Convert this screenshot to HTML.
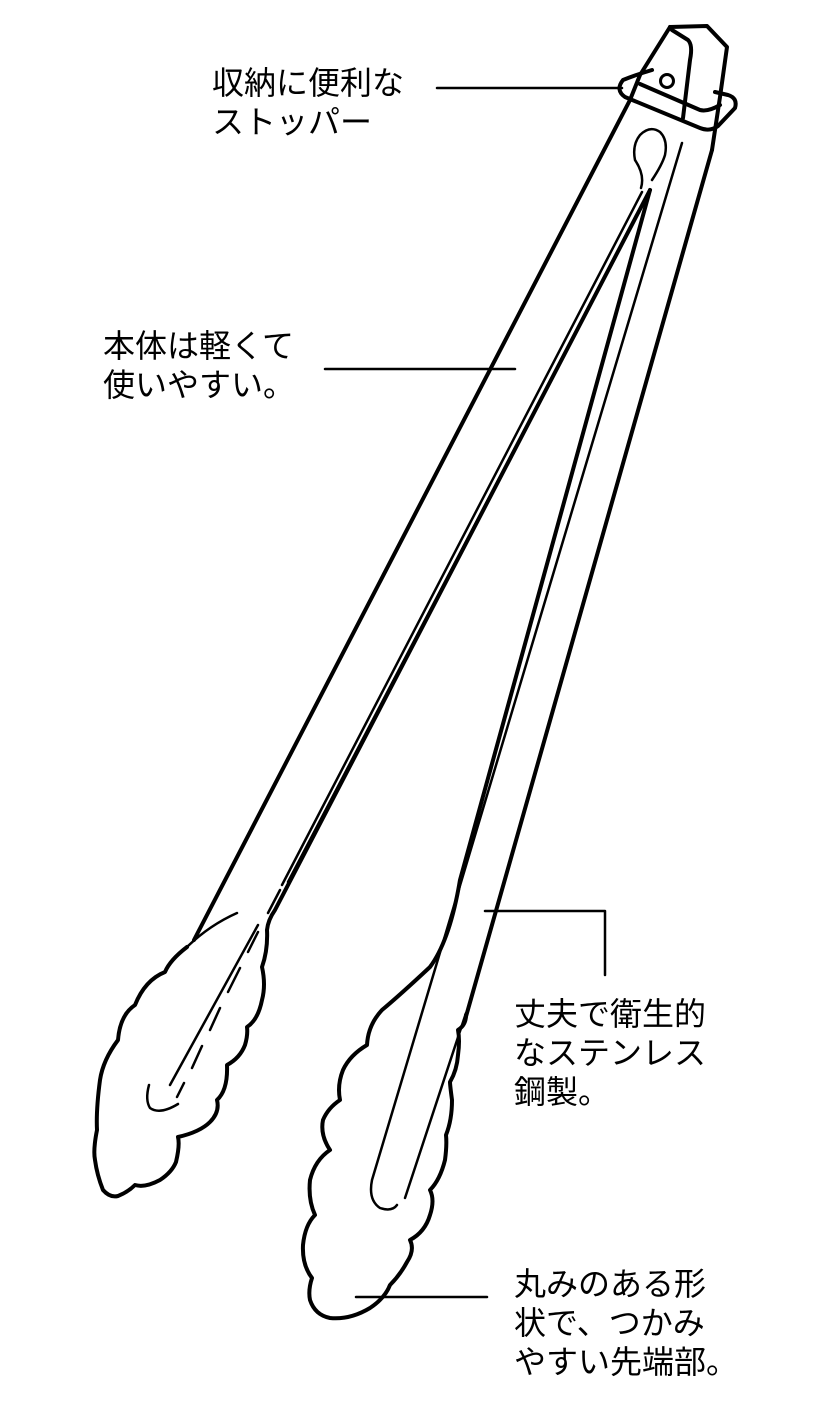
<!DOCTYPE html>
<html><head><meta charset="utf-8"><style>
html,body{margin:0;padding:0;background:#fff;}
body{width:818px;height:1414px;position:relative;overflow:hidden;}
.t{position:absolute;font-family:"Liberation Sans","Noto Sans CJK JP",sans-serif;font-size:32px;line-height:39px;color:#000;white-space:nowrap;}
svg{position:absolute;left:0;top:0;}
</style></head><body>
<svg width="818" height="1414" viewBox="0 0 818 1414" fill="none" stroke="#000" stroke-linecap="round" stroke-linejoin="round">
<g stroke-width="2.5">
<line x1="437" y1="88" x2="622" y2="88"/>
<line x1="325" y1="369" x2="515" y2="369"/>
<polyline points="485,911 605,911 605,975"/>
<line x1="356" y1="1297" x2="487" y2="1297"/>
</g>
<g stroke-width="4">
<path d="M670,27 L707,26 L727,47 L720,97 L712,150"/>
<path d="M670,27 L640,75 L630,100"/>
<path d="M672,30 L688,40 Q693,45 690,60 L683,118"/>
<path d="M652,70 Q635,75 623,80 Q615,90 625,97 L700,128 Q710,132 718,126 L735,108 Q738,98 728,95 L715,92"/>
<path d="M640,84 L700,110 Q708,112 720,105"/>
<circle cx="667" cy="81" r="6.5" stroke-width="3"/>
</g>
<g stroke-width="4">
<path d="M630,100 L194,940"/>
<path d="M187,947 Q170,960 165,972 Q145,980 135,1005 Q120,1015 118,1040 Q103,1060 100,1080 Q96,1110 97,1130 Q93,1150 95,1160 Q97,1175 103,1190 Q110,1198 118,1196 Q128,1192 135,1185 Q145,1188 160,1180 Q172,1172 176,1162 Q180,1145 178,1137 Q200,1132 210,1122 Q220,1112 217,1100 Q228,1090 227,1065 Q240,1058 245,1045 Q248,1035 247,1027 Q258,1020 262,1000 Q266,985 262,967 Q268,950 267,930 Q268,920 275,910 L650,190"/>
</g>
<g stroke-width="2.5">
<path d="M642,192 L282,885"/>
<path d="M650,190 L288,882"/>
<path d="M188,946 Q210,925 237,913"/>
<path d="M280,890 L268,913 M258,932 L248,952 M240,968 L228,992 M220,1008 L210,1030 M202,1046 L192,1068 M184,1083 L177,1097"/>
<path d="M258,925 L170,1085"/>
<path d="M149,1085 Q145,1100 150,1108 Q160,1115 178,1104"/>
<path d="M641,188 Q645,175 635,160 Q632,145 640,135 Q650,125 660,132 Q668,140 665,155 Q662,165 652,180"/>
</g>
<g stroke-width="4">
<path d="M650,190 L460,880 Q450,940 430,967 Q400,995 382,1010 Q368,1025 367,1045 Q350,1055 343,1070 Q337,1085 340,1100 Q328,1108 323,1120 Q320,1135 330,1150 Q315,1160 310,1180 Q308,1200 315,1215 Q305,1225 303,1245 Q302,1265 312,1278 Q308,1290 310,1300 Q315,1315 330,1318 Q350,1320 370,1308 Q385,1298 390,1285 Q400,1275 407,1262 Q415,1250 410,1240 Q425,1232 430,1215 Q435,1200 430,1190 Q440,1180 445,1160 Q447,1145 446,1135 Q452,1120 452,1100 Q450,1085 450,1082 Q457,1070 458,1055 Q460,1040 458,1030 Q466,1025 466,1015"/>
<path d="M712,150 L465,1020"/>
</g>
<g stroke-width="2.5">
<path d="M682,143 L372,1180 Q368,1200 380,1208 Q392,1212 397,1205"/>
<path d="M405,1198 L466,1013"/>
</g>
</svg>
<div class="t" style="left:212px;top:64px;">収納に便利な<br>ストッパー</div>
<div class="t" style="left:103px;top:327px;">本体は軽くて<br>使いやすい。</div>
<div class="t" style="left:514px;top:995px;">丈夫で衛生的<br>なステンレス<br>鋼製。</div>
<div class="t" style="left:514px;top:1265px;">丸みのある形<br>状で、つかみ<br>やすい先端部。</div>
</body></html>
